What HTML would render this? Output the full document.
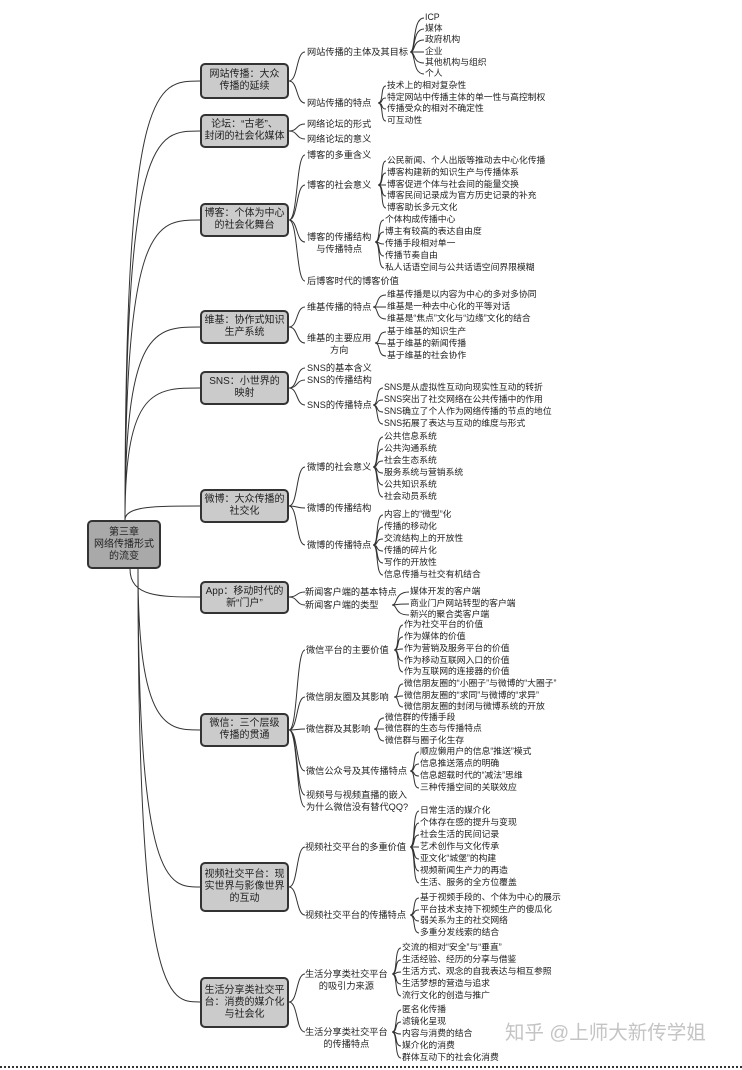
<!DOCTYPE html>
<html><head><meta charset="utf-8"><style>
body{margin:0;background:#fff;}
#c{position:relative;width:742px;height:1070px;overflow:hidden;font-family:"Liberation Sans","Noto Sans CJK SC",sans-serif;color:#222;}
.b{position:absolute;left:200px;width:89px;background:#cbcbcb;border:2px solid #333;border-radius:5px;font-size:10px;line-height:12px;text-align:center;display:flex;align-items:center;justify-content:center;box-sizing:border-box;}
.r{left:87px;width:74px;top:520px;height:49px;background:#a9a9a9;}
.t{position:absolute;font-size:9.2px;line-height:12px;white-space:nowrap;margin-top:-6px;}
.t2{margin-top:-12px;text-align:center;}
.l{position:absolute;font-size:8.8px;line-height:11px;white-space:nowrap;margin-top:-6px;}
svg{position:absolute;left:0;top:0;}
.wm{position:absolute;left:505px;top:1016px;font-size:19.5px;color:#c4c4c4;white-space:nowrap;}
.dot{position:absolute;left:0;top:1066px;width:742px;border-top:2px dotted #333;}
</style></head><body><div id="c">
<svg id="s" width="742" height="1070"></svg>
<div class="b r">第三章<br>网络传播形式<br>的流变</div>
<div class="b" style="top:63px;height:36px">网站传播：大众<br>传播的延续</div>
<div class="b" style="top:114px;height:34px">论坛：“古老”、<br>封闭的社会化媒体</div>
<div class="b" style="top:203px;height:34px">博客：个体为中心<br>的社会化舞台</div>
<div class="b" style="top:310px;height:34px">维基：协作式知识<br>生产系统</div>
<div class="b" style="top:371px;height:34px">SNS：小世界的<br>映射</div>
<div class="b" style="top:489px;height:34px">微博：大众传播的<br>社交化</div>
<div class="b" style="top:581px;height:33px">App：移动时代的<br>新“门户”</div>
<div class="b" style="top:713px;height:34px">微信：三个层级<br>传播的贯通</div>
<div class="b" style="top:862px;height:50px">视频社交平台：现<br>实世界与影像世界<br>的互动</div>
<div class="b" style="top:977px;height:51px">生活分享类社交平<br>台：消费的媒介化<br>与社会化</div>

<div class="t" style="left:307px;top:52px">网站传播的主体及其目标</div>
<div class="l" style="left:425px;top:18px">ICP</div><div class="l" style="left:425px;top:29px">媒体</div><div class="l" style="left:425px;top:40px">政府机构</div><div class="l" style="left:425px;top:52px">企业</div><div class="l" style="left:425px;top:63px">其他机构与组织</div><div class="l" style="left:425px;top:74px">个人</div>
<div class="t" style="left:307px;top:103px">网站传播的特点</div>
<div class="l" style="left:387px;top:86px">技术上的相对复杂性</div><div class="l" style="left:387px;top:98px">特定网站中传播主体的单一性与高控制权</div><div class="l" style="left:387px;top:109px">传播受众的相对不确定性</div><div class="l" style="left:387px;top:121px">可互动性</div>
<div class="t" style="left:307px;top:124px">网络论坛的形式</div>
<div class="t" style="left:307px;top:139px">网络论坛的意义</div>
<div class="t" style="left:307px;top:155px">博客的多重含义</div>
<div class="t" style="left:307px;top:185px">博客的社会意义</div>
<div class="l" style="left:387px;top:161px">公民新闻、个人出版等推动去中心化传播</div><div class="l" style="left:387px;top:173px">博客构建新的知识生产与传播体系</div><div class="l" style="left:387px;top:185px">博客促进个体与社会间的能量交换</div><div class="l" style="left:387px;top:196px">博客民间记录成为官方历史记录的补充</div><div class="l" style="left:387px;top:208px">博客助长多元文化</div>
<div class="t t2" style="left:307px;top:243px">博客的传播结构<br>与传播特点</div>
<div class="l" style="left:385px;top:220px">个体构成传播中心</div><div class="l" style="left:385px;top:232px">博主有较高的表达自由度</div><div class="l" style="left:385px;top:244px">传播手段相对单一</div><div class="l" style="left:385px;top:256px">传播节奏自由</div><div class="l" style="left:385px;top:268px">私人话语空间与公共话语空间界限模糊</div>
<div class="t" style="left:307px;top:281px">后博客时代的博客价值</div>
<div class="t" style="left:307px;top:307px">维基传播的特点</div>
<div class="l" style="left:387px;top:295px">维基传播是以内容为中心的多对多协同</div><div class="l" style="left:387px;top:307px">维基是一种去中心化的平等对话</div><div class="l" style="left:387px;top:319px">维基是“焦点”文化与“边缘”文化的结合</div>
<div class="t t2" style="left:307px;top:344px">维基的主要应用<br>方向</div>
<div class="l" style="left:387px;top:332px">基于维基的知识生产</div><div class="l" style="left:387px;top:344px">基于维基的新闻传播</div><div class="l" style="left:387px;top:356px">基于维基的社会协作</div>
<div class="t" style="left:307px;top:368px">SNS的基本含义</div>
<div class="t" style="left:307px;top:380px">SNS的传播结构</div>
<div class="t" style="left:307px;top:405px">SNS的传播特点</div>
<div class="l" style="left:384px;top:388px">SNS是从虚拟性互动向现实性互动的转折</div><div class="l" style="left:384px;top:400px">SNS突出了社交网络在公共传播中的作用</div><div class="l" style="left:384px;top:412px">SNS确立了个人作为网络传播的节点的地位</div><div class="l" style="left:384px;top:424px">SNS拓展了表达与互动的维度与形式</div>
<div class="t" style="left:307px;top:467px">微博的社会意义</div>
<div class="l" style="left:384px;top:437px">公共信息系统</div><div class="l" style="left:384px;top:449px">公共沟通系统</div><div class="l" style="left:384px;top:461px">社会生态系统</div><div class="l" style="left:384px;top:473px">服务系统与营销系统</div><div class="l" style="left:384px;top:485px">公共知识系统</div><div class="l" style="left:384px;top:497px">社会动员系统</div>
<div class="t" style="left:307px;top:508px">微博的传播结构</div>
<div class="t" style="left:307px;top:545px">微博的传播特点</div>
<div class="l" style="left:384px;top:515px">内容上的“微型”化</div><div class="l" style="left:384px;top:527px">传播的移动化</div><div class="l" style="left:384px;top:539px">交流结构上的开放性</div><div class="l" style="left:384px;top:551px">传播的碎片化</div><div class="l" style="left:384px;top:563px">写作的开放性</div><div class="l" style="left:384px;top:575px">信息传播与社交有机结合</div>
<div class="t" style="left:305px;top:592px">新闻客户端的基本特点</div>
<div class="t" style="left:305px;top:605px">新闻客户端的类型</div>
<div class="l" style="left:410px;top:592px">媒体开发的客户端</div><div class="l" style="left:410px;top:604px">商业门户网站转型的客户端</div><div class="l" style="left:410px;top:615px">新兴的聚合类客户端</div>
<div class="t" style="left:306px;top:650px">微信平台的主要价值</div>
<div class="l" style="left:404px;top:625px">作为社交平台的价值</div><div class="l" style="left:404px;top:637px">作为媒体的价值</div><div class="l" style="left:404px;top:649px">作为营销及服务平台的价值</div><div class="l" style="left:404px;top:661px">作为移动互联网入口的价值</div><div class="l" style="left:404px;top:672px">作为互联网的连接器的价值</div>
<div class="t" style="left:306px;top:697px">微信朋友圈及其影响</div>
<div class="l" style="left:404px;top:684px">微信朋友圈的“小圈子”与微博的“大圈子”</div><div class="l" style="left:404px;top:696px">微信朋友圈的“求同”与微博的“求异”</div><div class="l" style="left:404px;top:707px">微信朋友圈的封闭与微博系统的开放</div>
<div class="t" style="left:306px;top:729px">微信群及其影响</div>
<div class="l" style="left:385px;top:718px">微信群的传播手段</div><div class="l" style="left:385px;top:729px">微信群的生态与传播特点</div><div class="l" style="left:385px;top:741px">微信群与圈子化生存</div>
<div class="t" style="left:306px;top:771px">微信公众号及其传播特点</div>
<div class="l" style="left:420px;top:752px">顺应懒用户的信息“推送”模式</div><div class="l" style="left:420px;top:764px">信息推送落点的明确</div><div class="l" style="left:420px;top:776px">信息超载时代的“减法”思维</div><div class="l" style="left:420px;top:788px">三种传播空间的关联效应</div>
<div class="t" style="left:306px;top:795px">视频号与视频直播的嵌入</div>
<div class="t" style="left:306px;top:807px">为什么微信没有替代QQ?</div>
<div class="t" style="left:305px;top:847px">视频社交平台的多重价值</div>
<div class="l" style="left:420px;top:811px">日常生活的媒介化</div><div class="l" style="left:420px;top:823px">个体存在感的提升与变现</div><div class="l" style="left:420px;top:835px">社会生活的民间记录</div><div class="l" style="left:420px;top:847px">艺术创作与文化传承</div><div class="l" style="left:420px;top:859px">亚文化“城堡”的构建</div><div class="l" style="left:420px;top:871px">视频新闻生产力的再造</div><div class="l" style="left:420px;top:883px">生活、服务的全方位覆盖</div>
<div class="t" style="left:305px;top:915px">视频社交平台的传播特点</div>
<div class="l" style="left:420px;top:898px">基于视频手段的、个体为中心的展示</div><div class="l" style="left:420px;top:910px">平台技术支持下视频生产的傻瓜化</div><div class="l" style="left:420px;top:921px">弱关系为主的社交网络</div><div class="l" style="left:420px;top:933px">多重分发线索的结合</div>
<div class="t t2" style="left:305px;top:980px">生活分享类社交平台<br>的吸引力来源</div>
<div class="l" style="left:402px;top:948px">交流的相对“安全”与“垂直”</div><div class="l" style="left:402px;top:960px">生活经验、经历的分享与借鉴</div><div class="l" style="left:402px;top:972px">生活方式、观念的自我表达与相互参照</div><div class="l" style="left:402px;top:984px">生活梦想的营造与追求</div><div class="l" style="left:402px;top:996px">流行文化的创造与推广</div>
<div class="t t2" style="left:305px;top:1038px">生活分享类社交平台<br>的传播特点</div>
<div class="l" style="left:402px;top:1010px">匿名化传播</div><div class="l" style="left:402px;top:1022px">滤镜化呈现</div><div class="l" style="left:402px;top:1034px">内容与消费的结合</div><div class="l" style="left:402px;top:1046px">媒介化的消费</div><div class="l" style="left:402px;top:1058px">群体互动下的社会化消费</div>
<div class="wm">知乎 @上师大新传学姐</div>
<div class="dot"></div>
</div>
<script>
var s=document.getElementById('s'),d='';
var B=[[81,[[52,410,425,[18,29,40,52,63,74]],[103,378,387,[86,98,109,121]]]],
[131,[[124],[139]]],
[220,[[155],[185,378,387,[161,173,185,196,208]],[242,375,385,[220,232,244,256,268]],[281]]],
[327,[[307,373,387,[295,307,319]],[343,375,387,[332,344,356]]]],
[388,[[368],[380],[405,373,384,[388,400,412,424]]]],
[506,[[467,373,384,[437,449,461,473,485,497]],[508],[545,373,384,[515,527,539,551,563,575]]]],
[597,[[592],[605,392,410,[592,604,615]]]],
[730,[[650,394,404,[625,637,649,661,672]],[697,394,404,[684,696,707]],[729,374,385,[718,729,741]],[771,410,420,[752,764,776,788]],[795],[807]]],
[887,[[847,410,420,[811,823,835,847,859,871,883]],[915,410,420,[898,910,921,933]]]],
[1002,[[974,392,402,[948,960,972,984,996]],[1032,392,402,[1010,1022,1034,1046,1058]]]]];
B.forEach(function(b){var m=b[0];
 var sy=m<545?520:569, sx=m<545?125:(m<700?130:138);
 d+='M'+sx+' '+sy+' C'+sx+' '+m+' '+(sx+30)+' '+m+' 200 '+m+' ';
 b[1].forEach(function(n){var y=n[0];
  d+='M289 '+m+' C298 '+m+' 296 '+y+' 305 '+y+' ';
  if(n.length>1){var ex=n[1],lx=n[2];n[3].forEach(function(ly){
   d+='M'+ex+' '+y+' C'+(ex+6)+' '+y+' '+(ex+2)+' '+ly+' '+(lx-1)+' '+ly+' ';});}
 });});
s.innerHTML='<path d="'+d+'" fill="none" stroke="#333" stroke-width="1"/>';
</script>
</body></html>
